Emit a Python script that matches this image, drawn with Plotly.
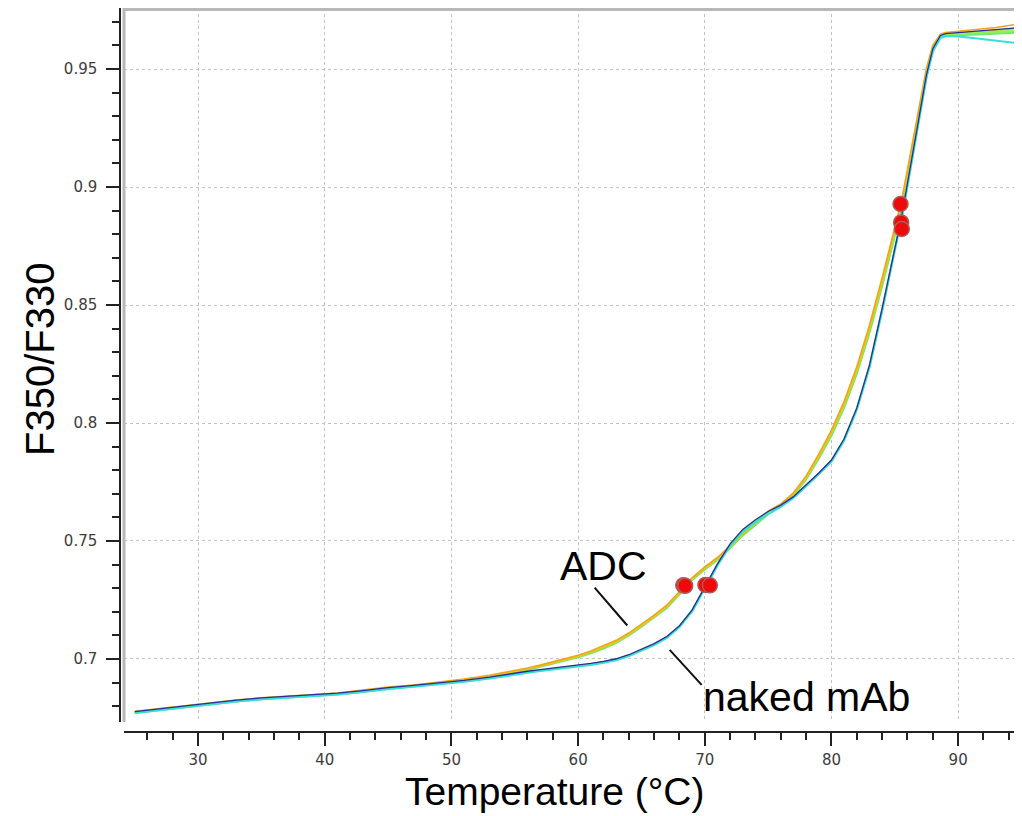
import plotly.graph_objects as go

# ---------------- data ----------------
temps = [25, 27, 29, 31, 33, 35, 37, 39, 41, 43,
         45, 47, 49, 51, 53, 55, 56, 57, 58, 59,
         60, 61, 62, 63, 64, 65, 66, 67, 68, 69,
         70, 71, 72, 73, 74, 75, 76, 77, 78, 79,
         80, 81, 82, 83, 84, 85, 85.5, 86, 86.5, 87,
         87.5, 88, 88.6, 89, 90, 91, 92, 93, 94, 95]

adc_orange = [.6778, .6790, .6802, .6816, .6826, .6836, .6842, .6849, .6856, .6868,
              .6881, .6890, .6902, .6915, .6931, .6950, .6962, .6974, .6988, .7002,
              .7016, .7034, .7055, .7079, .7110, .7147, .7186, .7228, .7285, .7344,
              .7390, .7430, .7480, .7536, .7582, .7626, .7657, .7704, .7776, .7868,
              .7970, .8092, .8238, .8414, .8616, .8826, .8935, .9075, .9215, .9365,
              .9505, .9600, .9648, .9655, .9660, .9664, .9670, .9676, .9684, .9692]

adc_gold = [.6775, .6787, .6800, .6812, .6823, .6833, .6840, .6846, .6852, .6864,
            .6877, .6888, .6898, .6911, .6927, .6946, .6957, .6970, .6983, .6997,
            .7011, .7029, .7049, .7073, .7104, .7141, .7179, .7221, .7279, .7339,
            .7385, .7425, .7476, .7531, .7576, .7620, .7652, .7699, .7768, .7858,
            .7958, .8078, .8222, .8398, .8598, .8808, .8918, .9058, .9198, .9348,
            .9488, .9588, .9638, .9646, .9650, .9654, .9658, .9663, .9668, .9676]

adc_green = [.6772, .6784, .6797, .6810, .6820, .6830, .6837, .6843, .6850, .6862,
             .6874, .6885, .6896, .6908, .6924, .6943, .6954, .6967, .6980, .6994,
             .7008, .7025, .7045, .7069, .7100, .7137, .7175, .7216, .7274, .7335,
             .7380, .7420, .7470, .7524, .7568, .7614, .7646, .7692, .7762, .7850,
             .7948, .8066, .8210, .8384, .8582, .8792, .8902, .9042, .9182, .9332,
             .9472, .9576, .9632, .9640, .9644, .9646, .9648, .9650, .9652, .9655]

mab_navy = [.6777, .6789, .6802, .6815, .6826, .6835, .6842, .6848, .6855, .6866,
            .6879, .6888, .6898, .6909, .6923, .6941, .6948, .6955, .6961, .6967,
            .6973, .6981, .6990, .7001, .7018, .7040, .7065, .7095, .7141, .7208,
            .7303, .7403, .7488, .7549, .7590, .7625, .7652, .7688, .7738, .7788,
            .7843, .7933, .8064, .8245, .8486, .8746, .8866, .9016, .9166, .9326,
            .9476, .9586, .9642, .9650, .9654, .9658, .9662, .9666, .9670, .9676]

mab_cyan = [.6771, .6783, .6796, .6809, .6820, .6829, .6836, .6842, .6849, .6860,
            .6873, .6882, .6892, .6903, .6917, .6935, .6942, .6949, .6955, .6961,
            .6967, .6975, .6984, .6995, .7012, .7034, .7059, .7089, .7135, .7202,
            .7296, .7396, .7481, .7541, .7580, .7615, .7644, .7682, .7732, .7782,
            .7836, .7926, .8056, .8235, .8474, .8734, .8854, .9004, .9154, .9314,
            .9464, .9574, .9634, .9640, .9638, .9632, .9626, .9620, .9614, .9608]

mab_green = [.6773, .6785, .6798, .6811, .6822, .6831, .6838, .6844, .6851, .6862,
             .6875, .6884, .6894, .6905, .6919, .6937, .6944, .6951, .6957, .6963,
             .6969, .6977, .6986, .6997, .7014, .7036, .7061, .7091, .7137, .7204,
             .7298, .7398, .7484, .7544, .7584, .7620, .7648, .7686, .7735, .7785,
             .7840, .7930, .8060, .8240, .8480, .8740, .8860, .9010, .9160, .9320,
             .9470, .9580, .9638, .9645, .9650, .9652, .9655, .9658, .9660, .9662]

# inflection points (Tm) marked in red
tm_temps = [68.3, 68.45, 70.05, 70.4, 85.45, 85.5, 85.55]
tm_ratio = [0.7312, 0.7310, 0.7314, 0.7312, 0.8928, 0.8850, 0.8822]

x_tickvals = [30, 40, 50, 60, 70, 80, 90]
x_ticktext = ["30", "40", "50", "60", "70", "80", "90"]
y_tickvals = [0.70, 0.75, 0.80, 0.85, 0.90, 0.95]
y_ticktext = ["0.7", "0.75", "0.8", "0.85", "0.9", "0.95"]

for s in (adc_orange, adc_gold, adc_green, mab_navy, mab_cyan, mab_green):
    assert len(s) == len(temps)

# ---------------- figure ----------------
fig = go.Figure()

series = [
    ("ADC 3", adc_green, "#6fe86a", 2.2),
    ("ADC 2", adc_gold, "#d8d020", 2.0),
    ("ADC 1", adc_orange, "#f5a21a", 1.6),
    ("mAb 3", mab_green, "#8ff05a", 2.4),
    ("mAb 2", mab_cyan, "#35e0d8", 2.0),
    ("mAb 1", mab_navy, "#2a2aa0", 1.3),
]
for name, vals, col, w in series:
    fig.add_trace(go.Scatter(x=temps, y=vals, mode="lines", name=name,
                             line=dict(color=col, width=w)))

fig.add_trace(go.Scatter(x=tm_temps, y=tm_ratio, mode="markers", name="Tm",
                         marker=dict(size=15, color="#ee0a0a", symbol="circle",
                                     line=dict(color="#b05a5a", width=1.5))))

tick_font = dict(family="DejaVu Sans", size=15, color="#3c3c3c")
OFF = 8                      # browser body margin
W, H = 1022 - OFF, 816 - OFF
L, R, T, B = 120 - OFF, 0, 0, 84
pw, ph = W - L - R, H - T - B


def px_x(page_x):
    return (page_x - OFF - L) / pw


def px_y(page_y):
    return (H - B - (page_y - OFF)) / ph


fig.update_layout(
    width=W, height=H,
    margin=dict(l=L, r=R, t=T, b=B, pad=0),
    paper_bgcolor="white", plot_bgcolor="white",
    showlegend=False,
    xaxis=dict(
        domain=[4 / pw, 1], anchor="free", position=0,
        range=[24.15, 95.04], tickmode="array", tickvals=x_tickvals, ticktext=x_ticktext,
        ticks="outside", ticklen=13, tickwidth=1.5, tickcolor="#222",
        showline=True, linecolor="#222", linewidth=1.5,
        showgrid=True, gridcolor="#c4c4c4", griddash="dot", gridwidth=1,
        zeroline=False, tickfont=tick_font, automargin=False, ticklabelstandoff=1,
        minor=dict(tickmode="linear", tick0=0, dtick=2, ticks="outside", ticklen=7,
                   tickwidth=1.5, tickcolor="#222", showgrid=False),
    ),
    yaxis=dict(
        domain=[10 / ph, 1], anchor="free", position=0,
        range=[0.6733, 0.97585], tickmode="array", tickvals=y_tickvals, ticktext=y_ticktext,
        ticks="outside", ticklen=13, tickwidth=1.5, tickcolor="#222",
        showline=True, linecolor="#222", linewidth=1.5,
        showgrid=True, gridcolor="#c4c4c4", griddash="dot", gridwidth=1,
        zeroline=False, tickfont=tick_font, automargin=False, ticklabelstandoff=6,
        minor=dict(tickmode="linear", tick0=0, dtick=0.01, ticks="outside", ticklen=7,
                   tickwidth=1.5, tickcolor="#222", showgrid=False),
    ),
    shapes=[
        dict(type="line", xref="x domain", yref="y domain", x0=0, x1=0, y0=0, y1=1,
             line=dict(color="#b8b8b8", width=3)),
        dict(type="line", xref="x domain", yref="y domain", x0=0, x1=1, y0=0.998, y1=0.998,
             line=dict(color="#b8b8b8", width=3)),
    ],
    annotations=[
        dict(text="Temperature (°C)", xref="paper", yref="paper",
             x=px_x(555), y=px_y(792), xanchor="center", yanchor="middle",
             showarrow=False, font=dict(family="Liberation Sans", size=39, color="black")),
        dict(text="F350/F330", xref="paper", yref="paper", textangle=-90,
             x=px_x(40), y=px_y(360), xanchor="center", yanchor="middle",
             showarrow=False, font=dict(family="Liberation Sans", size=40, color="black")),
        dict(text="ADC", xref="x", yref="y", x=61.97, y=0.7394,
             xanchor="center", yanchor="middle", showarrow=False,
             font=dict(family="Liberation Sans", size=41, color="black")),
        dict(text="naked mAb", xref="x", yref="y", x=78.0, y=0.6839,
             xanchor="center", yanchor="middle", showarrow=False,
             font=dict(family="Liberation Sans", size=41, color="black")),
        dict(text="", xref="x", yref="y", x=63.88, y=0.7142,
             axref="x", ayref="y", ax=61.2, ay=0.7309,
             showarrow=True, arrowhead=0, arrowwidth=2, arrowcolor="#111"),
        dict(text="", xref="x", yref="y", x=69.75, y=0.6890,
             axref="x", ayref="y", ax=67.12, ay=0.7045,
             showarrow=True, arrowhead=0, arrowwidth=2, arrowcolor="#111"),
    ],
)

fig.write_html("out.html")
